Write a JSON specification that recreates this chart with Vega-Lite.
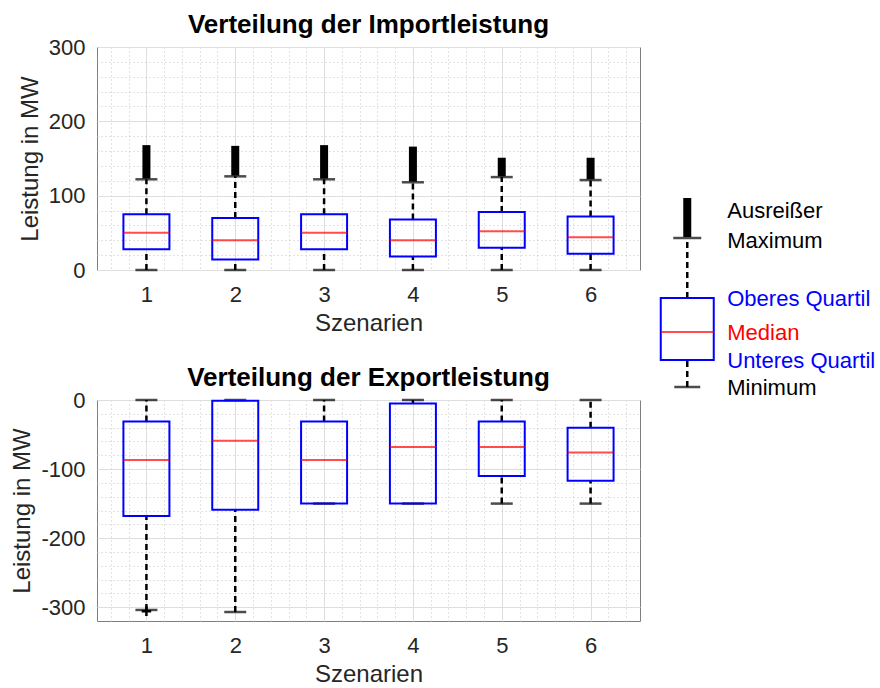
{
  "$schema": "https://vega.github.io/schema/vega-lite/v6.json",
  "background": "white",
  "padding": {"left": 10, "top": 11, "right": 0, "bottom": 0},
  "datasets": {
    "import": [
      {"szenario": 1, "min": 0, "q1": 28, "median": 50, "q3": 75, "max": 122, "ausreisserMin": 123, "ausreisserMax": 168},
      {"szenario": 2, "min": 0, "q1": 14, "median": 40, "q3": 70, "max": 126, "ausreisserMin": 127, "ausreisserMax": 167},
      {"szenario": 3, "min": 0, "q1": 28, "median": 50, "q3": 75, "max": 122, "ausreisserMin": 123, "ausreisserMax": 168},
      {"szenario": 4, "min": 0, "q1": 18, "median": 40, "q3": 68, "max": 118, "ausreisserMin": 119, "ausreisserMax": 166},
      {"szenario": 5, "min": 0, "q1": 30, "median": 52, "q3": 78, "max": 125, "ausreisserMin": 126, "ausreisserMax": 151},
      {"szenario": 6, "min": 0, "q1": 22, "median": 44, "q3": 72, "max": 121, "ausreisserMin": 122, "ausreisserMax": 151}
    ],
    "export": [
      {"szenario": 1, "min": -304, "q1": -168, "median": -87, "q3": -31, "max": 0},
      {"szenario": 2, "min": -307, "q1": -159, "median": -59, "q3": -1, "max": 0},
      {"szenario": 3, "min": -150, "q1": -150, "median": -87, "q3": -31, "max": 0},
      {"szenario": 4, "min": -150, "q1": -150, "median": -68, "q3": -5, "max": 0},
      {"szenario": 5, "min": -150, "q1": -110, "median": -68, "q3": -31, "max": 0},
      {"szenario": 6, "min": -150, "q1": -117, "median": -76, "q3": -40, "max": 0}
    ],
    "exportAusreisser": [{"szenario": 1, "wert": -306}],
    "legende": [{"pos": 1, "min": 1, "q1": 28, "median": 56, "q3": 90, "max": 150, "ausreisserMin": 151, "ausreisserMax": 190}],
    "legendeText": [
      {"pos": 1, "label": "Ausreißer", "wert": 177, "typ": "Extrem"},
      {"pos": 1, "label": "Maximum", "wert": 147, "typ": "Extrem"},
      {"pos": 1, "label": "Oberes Quartil", "wert": 89, "typ": "Quartil"},
      {"pos": 1, "label": "Median", "wert": 55, "typ": "Median"},
      {"pos": 1, "label": "Unteres Quartil", "wert": 27, "typ": "Quartil"},
      {"pos": 1, "label": "Minimum", "wert": 0, "typ": "Extrem"}
    ]
  },
  "hconcat": [
    {
      "spacing": 28,
      "vconcat": [
        {
          "title": {"text": "Verteilung der Importleistung", "offset": -2},
          "width": 543,
          "height": 223,
          "data": {"name": "import"},
          "resolve": {"axis": {"x": "independent", "y": "independent"}},
          "layer": [
            {
              "mark": {"type": "rule", "color": "black", "strokeWidth": 2.5, "strokeDash": [6, 4]},
              "encoding": {
                "x": {
                  "field": "szenario", "type": "quantitative",
                  "scale": {"domain": [0.5, 6.5], "nice": false, "zero": false},
                  "axis": {"orient": "bottom", "values": [0.6, 0.8, 1.2, 1.4, 1.6, 1.8, 2.2, 2.4, 2.6, 2.8, 3.2, 3.4, 3.6, 3.8, 4.2, 4.4, 4.6, 4.8, 5.2, 5.4, 5.6, 5.8, 6.2, 6.4], "grid": true, "gridDash": [1, 3], "gridColor": "#c4c4c4", "labels": false, "ticks": false, "domain": false, "title": null, "minExtent": 0, "maxExtent": 0}
                },
                "y": {
                  "field": "min", "type": "quantitative",
                  "scale": {"domain": [0, 300], "nice": false},
                  "axis": {"orient": "left", "values": [20, 40, 60, 80, 120, 140, 160, 180, 220, 240, 260, 280], "grid": true, "gridDash": [1, 3], "gridColor": "#c4c4c4", "labels": false, "ticks": false, "domain": false, "title": null, "minExtent": 0, "maxExtent": 0}
                },
                "y2": {"field": "q1"}
              }
            },
            {
              "mark": {"type": "rule", "color": "black", "strokeWidth": 2.5, "strokeDash": [6, 4]},
              "encoding": {
                "x": {
                  "field": "szenario", "type": "quantitative",
                  "scale": {"domain": [0.5, 6.5], "nice": false, "zero": false},
                  "axis": {"orient": "bottom", "values": [1, 2, 3, 4, 5, 6], "grid": true, "gridColor": "#dedede", "title": "Szenarien", "labelExpr": "'' + datum.value", "labelPadding": 14, "titlePadding": 6, "labelFlush": false}
                },
                "y": {
                  "field": "q3", "type": "quantitative",
                  "scale": {"domain": [0, 300], "nice": false},
                  "axis": {"orient": "left", "values": [0, 100, 200, 300], "grid": true, "gridColor": "#dedede", "title": "Leistung in MW", "labelExpr": "'' + datum.value", "labelPadding": 12, "titlePadding": 6, "labelFlush": false}
                },
                "y2": {"field": "max"}
              }
            },
            {
              "mark": {"type": "rule", "color": "black", "strokeWidth": 8},
              "encoding": {
                "x": {"field": "szenario", "type": "quantitative", "scale": {"domain": [0.5, 6.5], "nice": false, "zero": false}, "axis": null},
                "y": {"field": "ausreisserMin", "type": "quantitative", "scale": {"domain": [0, 300], "nice": false}, "axis": null},
                "y2": {"field": "ausreisserMax"}
              }
            },
            {
              "mark": {"type": "tick", "orient": "horizontal", "color": "black", "size": 22, "thickness": 2.5},
              "encoding": {
                "x": {"field": "szenario", "type": "quantitative", "scale": {"domain": [0.5, 6.5], "nice": false, "zero": false}, "axis": null},
                "y": {"field": "max", "type": "quantitative", "scale": {"domain": [0, 300], "nice": false}, "axis": null}
              }
            },
            {
              "mark": {"type": "tick", "orient": "horizontal", "color": "black", "size": 22, "thickness": 2.5},
              "encoding": {
                "x": {"field": "szenario", "type": "quantitative", "scale": {"domain": [0.5, 6.5], "nice": false, "zero": false}, "axis": null},
                "y": {"field": "min", "type": "quantitative", "scale": {"domain": [0, 300], "nice": false}, "axis": null}
              }
            },
            {
              "mark": {"type": "bar", "width": 46, "fill": "transparent", "stroke": "#0000ff", "strokeWidth": 2},
              "encoding": {
                "x": {"field": "szenario", "type": "quantitative", "scale": {"domain": [0.5, 6.5], "nice": false, "zero": false}, "axis": null},
                "y": {"field": "q1", "type": "quantitative", "scale": {"domain": [0, 300], "nice": false}, "axis": null},
                "y2": {"field": "q3"}
              }
            },
            {
              "mark": {"type": "tick", "orient": "horizontal", "color": "#ff0000", "size": 46, "thickness": 2},
              "encoding": {
                "x": {"field": "szenario", "type": "quantitative", "scale": {"domain": [0.5, 6.5], "nice": false, "zero": false}, "axis": null},
                "y": {"field": "median", "type": "quantitative", "scale": {"domain": [0, 300], "nice": false}, "axis": null}
              }
            }
          ]
        },
        {
          "title": {"text": "Verteilung der Exportleistung", "offset": -2},
          "width": 543,
          "height": 221,
          "data": {"name": "export"},
          "resolve": {"axis": {"x": "independent", "y": "independent"}},
          "layer": [
            {
              "mark": {"type": "rule", "color": "black", "strokeWidth": 2.5, "strokeDash": [6, 4]},
              "encoding": {
                "x": {
                  "field": "szenario", "type": "quantitative",
                  "scale": {"domain": [0.5, 6.5], "nice": false, "zero": false},
                  "axis": {"orient": "bottom", "values": [0.6, 0.8, 1.2, 1.4, 1.6, 1.8, 2.2, 2.4, 2.6, 2.8, 3.2, 3.4, 3.6, 3.8, 4.2, 4.4, 4.6, 4.8, 5.2, 5.4, 5.6, 5.8, 6.2, 6.4], "grid": true, "gridDash": [1, 3], "gridColor": "#c4c4c4", "labels": false, "ticks": false, "domain": false, "title": null, "minExtent": 0, "maxExtent": 0}
                },
                "y": {
                  "field": "min", "type": "quantitative",
                  "scale": {"domain": [-320, 0], "nice": false},
                  "axis": {"orient": "left", "values": [-280, -260, -240, -220, -180, -160, -140, -120, -80, -60, -40, -20], "grid": true, "gridDash": [1, 3], "gridColor": "#c4c4c4", "labels": false, "ticks": false, "domain": false, "title": null, "minExtent": 0, "maxExtent": 0}
                },
                "y2": {"field": "q1"}
              }
            },
            {
              "mark": {"type": "rule", "color": "black", "strokeWidth": 2.5, "strokeDash": [6, 4]},
              "encoding": {
                "x": {
                  "field": "szenario", "type": "quantitative",
                  "scale": {"domain": [0.5, 6.5], "nice": false, "zero": false},
                  "axis": {"orient": "bottom", "values": [1, 2, 3, 4, 5, 6], "grid": true, "gridColor": "#dedede", "title": "Szenarien", "labelExpr": "'' + datum.value", "labelPadding": 14, "titlePadding": 6, "labelFlush": false}
                },
                "y": {
                  "field": "q3", "type": "quantitative",
                  "scale": {"domain": [-320, 0], "nice": false},
                  "axis": {"orient": "left", "values": [-300, -200, -100, 0], "grid": true, "gridColor": "#dedede", "title": "Leistung in MW", "labelExpr": "'' + datum.value", "labelPadding": 12, "titlePadding": 6, "labelFlush": false}
                },
                "y2": {"field": "max"}
              }
            },
            {
              "mark": {"type": "tick", "orient": "horizontal", "color": "black", "size": 22, "thickness": 2.5},
              "encoding": {
                "x": {"field": "szenario", "type": "quantitative", "scale": {"domain": [0.5, 6.5], "nice": false, "zero": false}, "axis": null},
                "y": {"field": "max", "type": "quantitative", "scale": {"domain": [-320, 0], "nice": false}, "axis": null}
              }
            },
            {
              "mark": {"type": "tick", "orient": "horizontal", "color": "black", "size": 22, "thickness": 2.5},
              "encoding": {
                "x": {"field": "szenario", "type": "quantitative", "scale": {"domain": [0.5, 6.5], "nice": false, "zero": false}, "axis": null},
                "y": {"field": "min", "type": "quantitative", "scale": {"domain": [-320, 0], "nice": false}, "axis": null}
              }
            },
            {
              "data": {"name": "exportAusreisser"},
              "mark": {"type": "point", "shape": "M-1,0H1M0,-1V1", "filled": false, "color": "black", "strokeWidth": 2.5, "size": 90, "opacity": 1},
              "encoding": {
                "x": {"field": "szenario", "type": "quantitative", "scale": {"domain": [0.5, 6.5], "nice": false, "zero": false}, "axis": null},
                "y": {"field": "wert", "type": "quantitative", "scale": {"domain": [-320, 0], "nice": false}, "axis": null}
              }
            },
            {
              "mark": {"type": "bar", "width": 46, "fill": "transparent", "stroke": "#0000ff", "strokeWidth": 2},
              "encoding": {
                "x": {"field": "szenario", "type": "quantitative", "scale": {"domain": [0.5, 6.5], "nice": false, "zero": false}, "axis": null},
                "y": {"field": "q1", "type": "quantitative", "scale": {"domain": [-320, 0], "nice": false}, "axis": null},
                "y2": {"field": "q3"}
              }
            },
            {
              "mark": {"type": "tick", "orient": "horizontal", "color": "#ff0000", "size": 46, "thickness": 2},
              "encoding": {
                "x": {"field": "szenario", "type": "quantitative", "scale": {"domain": [0.5, 6.5], "nice": false, "zero": false}, "axis": null},
                "y": {"field": "median", "type": "quantitative", "scale": {"domain": [-320, 0], "nice": false}, "axis": null}
              }
            }
          ]
        }
      ]
    },
    {
      "width": 220,
      "height": 341,
      "view": {"stroke": null},
      "data": {"name": "legende"},
      "encoding": {
        "x": {"field": "pos", "type": "quantitative", "scale": {"domain": [0.5, 4.5], "nice": false, "zero": false}, "axis": null}
      },
      "layer": [
        {
          "mark": {"type": "rule", "color": "black", "strokeWidth": 2.5, "strokeDash": [6, 4]},
          "encoding": {
            "y": {"field": "q3", "type": "quantitative", "scale": {"domain": [0, 341], "nice": false}, "axis": null},
            "y2": {"field": "max"}
          }
        },
        {
          "mark": {"type": "rule", "color": "black", "strokeWidth": 2.5, "strokeDash": [6, 4]},
          "encoding": {
            "y": {"field": "min", "type": "quantitative", "scale": {"domain": [0, 341], "nice": false}, "axis": null},
            "y2": {"field": "q1"}
          }
        },
        {
          "mark": {"type": "rule", "color": "black", "strokeWidth": 8},
          "encoding": {
            "y": {"field": "ausreisserMin", "type": "quantitative", "scale": {"domain": [0, 341], "nice": false}, "axis": null},
            "y2": {"field": "ausreisserMax"}
          }
        },
        {
          "mark": {"type": "tick", "orient": "horizontal", "color": "black", "size": 28, "thickness": 2.5},
          "encoding": {"y": {"field": "max", "type": "quantitative", "scale": {"domain": [0, 341], "nice": false}, "axis": null}}
        },
        {
          "mark": {"type": "tick", "orient": "horizontal", "color": "black", "size": 26, "thickness": 2.5},
          "encoding": {"y": {"field": "min", "type": "quantitative", "scale": {"domain": [0, 341], "nice": false}, "axis": null}}
        },
        {
          "mark": {"type": "bar", "width": 53, "fill": "transparent", "stroke": "#0000ff", "strokeWidth": 2},
          "encoding": {
            "y": {"field": "q1", "type": "quantitative", "scale": {"domain": [0, 341], "nice": false}, "axis": null},
            "y2": {"field": "q3"}
          }
        },
        {
          "mark": {"type": "tick", "orient": "horizontal", "color": "#ff0000", "size": 53, "thickness": 2},
          "encoding": {"y": {"field": "median", "type": "quantitative", "scale": {"domain": [0, 341], "nice": false}, "axis": null}}
        },
        {
          "data": {"name": "legendeText"},
          "mark": {"type": "text", "align": "left", "baseline": "middle", "dx": 40, "fontSize": 22, "font": "Liberation Sans"},
          "encoding": {
            "y": {"field": "wert", "type": "quantitative", "scale": {"domain": [0, 341], "nice": false}, "axis": null},
            "text": {"field": "label"},
            "color": {"field": "typ", "type": "nominal", "scale": {"domain": ["Extrem", "Quartil", "Median"], "range": ["#000000", "#0000ff", "#ff0000"]}, "legend": null}
          }
        }
      ]
    }
  ],
  "spacing": 15,
  "config": {
    "font": "Liberation Sans",
    "view": {"stroke": "#7f7f7f", "strokeWidth": 1},
    "axis": {
      "labelFont": "Liberation Sans", "labelFontSize": 22, "labelColor": "#262626",
      "titleFont": "Liberation Sans", "titleFontSize": 24, "titleFontWeight": "normal", "titleColor": "#262626",
      "domain": false, "ticks": false
    },
    "title": {"font": "Liberation Sans", "fontSize": 26, "fontWeight": "bold", "color": "#000000", "anchor": "middle"}
  }
}
